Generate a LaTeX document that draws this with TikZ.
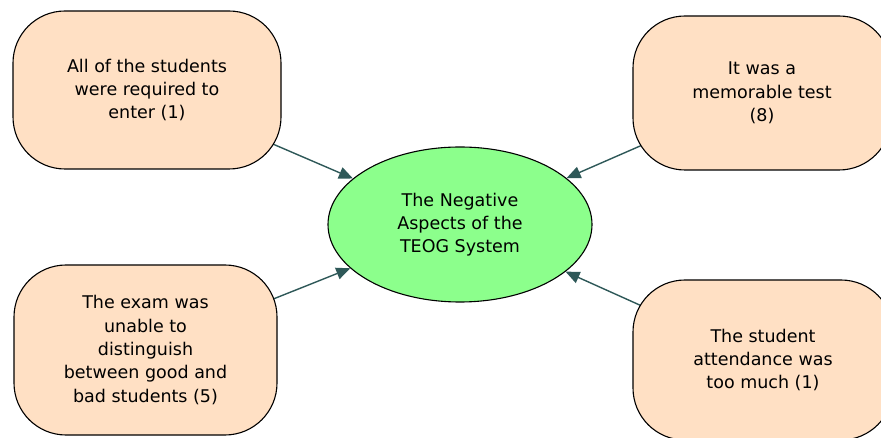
\documentclass[tikz,border=0pt]{standalone}
\usepackage{fontspec}
\setmainfont{DejaVu Sans}
\usetikzlibrary{arrows.meta,shapes.geometric}
\definecolor{peach}{HTML}{FFE0C4}
\definecolor{lgreen}{HTML}{8CFF8C}
\definecolor{arrowc}{HTML}{2E5858}
\pgfdeclarelayer{bg}
\pgfsetlayers{bg,main}
\tikzset{
  txt/.style={font=\fontsize{17.5}{23.3}\selectfont, align=center, inner sep=0pt,
    execute at begin node={\rule{0pt}{18.8pt}}},
  pbox/.style={txt, draw=black, line width=1.1pt, fill=peach, rounded corners=52pt},
  cell/.style={txt, draw=black, line width=1.1pt, fill=lgreen, ellipse},
  conn/.style={draw=arrowc, line width=1.4pt, shorten <=-30pt, -{Triangle[length=14pt,width=12pt]}}
}
\begin{document}
\begin{tikzpicture}[x=1pt,y=-1pt]
\useasboundingbox (0,0) rectangle (881,438);
\clip (0,0) rectangle (881,438);
\begin{pgfonlayer}{bg}
\fill[white] (0,0) rectangle (881,438);
\end{pgfonlayer}
\node[pbox, minimum width=268pt, minimum height=158pt] (tl) at (147,90) {All of the students\\were required to\\enter (1)};
\node[pbox, minimum width=258pt, minimum height=154pt] (tr) at (762,93) {It was a\\memorable test\\(8)};
\node[pbox, minimum width=263pt, minimum height=170pt] (bl) at (145.5,350) {The exam was\\unable to\\distinguish\\between good and\\bad students (5)};
\node[pbox, minimum width=260pt, minimum height=160pt] (br) at (763,360) {The student\\attendance was\\too much (1)};
\node[cell, minimum width=264pt, minimum height=155pt] (c) at (460,224.5) {The Negative\\Aspects of the\\TEOG System};
\begin{pgfonlayer}{bg}
\draw[conn] (tl) -- (c);
\draw[conn] (tr) -- (c);
\draw[conn] (bl) -- (c);
\draw[conn] (br) -- (c);
\end{pgfonlayer}
\end{tikzpicture}
\end{document}
